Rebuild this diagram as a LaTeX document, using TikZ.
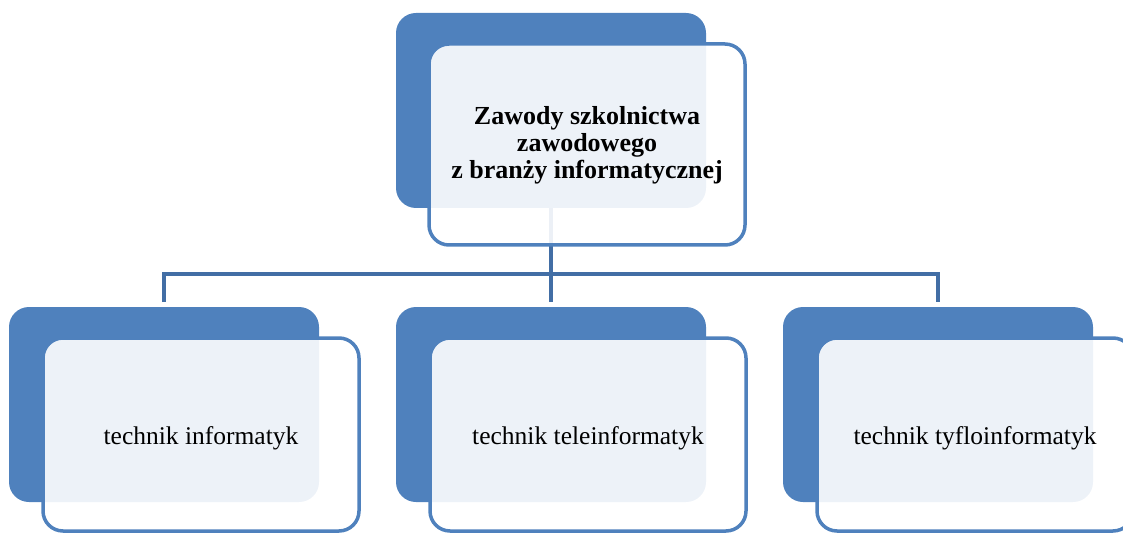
\documentclass[tikz,border=0pt]{standalone}
\usepackage{fontspec}
\setmainfont{Liberation Serif}
\begin{document}
\begin{tikzpicture}[x=1pt,y=-1pt]
\definecolor{boxblue}{RGB}{79,129,189}
\definecolor{linkblue}{RGB}{66,110,165}
\tikzset{
  backbox/.style={fill=boxblue, draw=none, rounded corners=20pt, inner sep=0pt,
    outer sep=0pt, minimum width=310pt, minimum height=195pt, anchor=north west},
  frontbox/.style={draw=boxblue, line width=3.5pt, fill=white, fill opacity=0.9,
    text opacity=1, rounded corners=20pt, inner sep=0pt, outer sep=0pt,
    minimum width=316pt, anchor=north west, align=center, text=black},
  conn/.style={draw=linkblue, line width=4pt},
  headtext/.style={font=\bfseries\fontsize{26}{27}\selectfont},
  leaftext/.style={font=\fontsize{25.5}{28}\selectfont},
}
% shift a label down while keeping its measured size
\newcommand{\lowered}[2]{\raisebox{-#1}[\height][\depth]{#2}}
\useasboundingbox (0,0) rectangle (1123,534);
\clip (0,0) rectangle (1123,534);

% back plates
\node[backbox] (tb) at (396,13) {};
\node[backbox] (lb) at (9,307) {};
\node[backbox] (mb) at (396,307) {};
\node[backbox] (rb) at (783,307) {};

% connectors
\coordinate (bus) at (0,274);
\draw[conn, shorten >=5pt] (tb.south) -- (mb.north);
\draw[conn, shorten <=5pt, shorten >=5pt] (lb.north) -- (lb.north |- bus)
  -- (rb.north |- bus) -- (rb.north);

% front cards with labels
\node[frontbox, minimum height=201pt, headtext] (tf) at (429,44)
  {\lowered{2pt}{\begin{tabular}{@{}c@{}}Zawody szkolnictwa\\zawodowego\\z branży informatycznej\end{tabular}}};
\node[frontbox, minimum height=193pt, leaftext] (lf) at (43,338) {\lowered{4pt}{technik informatyk}};
\node[frontbox, minimum height=193pt, leaftext] (mf) at (430,338) {\lowered{4pt}{technik teleinformatyk}};
\node[frontbox, minimum height=193pt, leaftext] (rf) at (817,338) {\lowered{4pt}{technik tyfloinformatyk}};
\end{tikzpicture}
\end{document}
